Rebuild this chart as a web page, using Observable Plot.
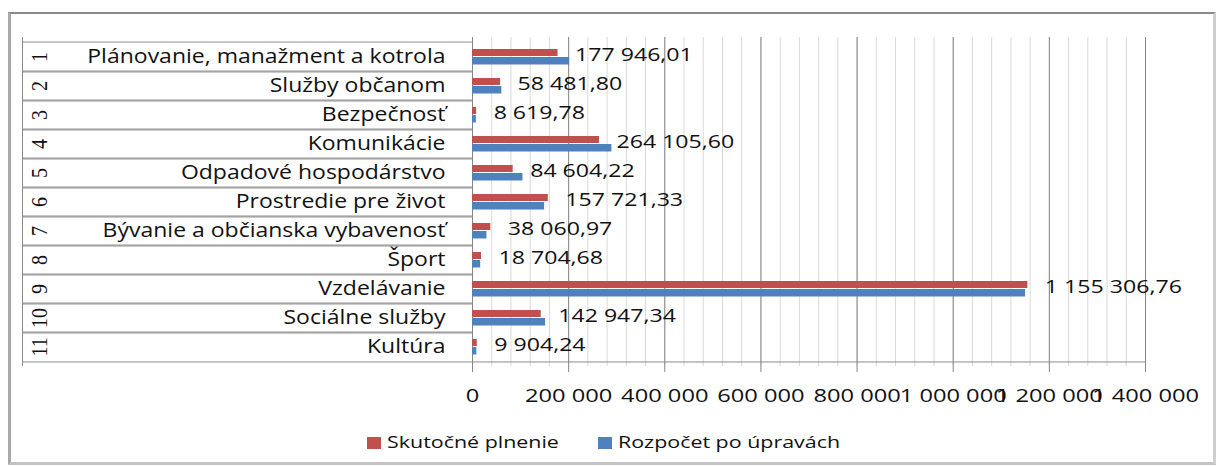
<!DOCTYPE html>
<html><head><meta charset="utf-8">
<script src="https://cdn.jsdelivr.net/npm/d3@7"></script>
<script src="https://cdn.jsdelivr.net/npm/@observablehq/plot@0.6"></script>
<style>
body{margin:0;background:#fff;font-family:"Open Sans",sans-serif;}
#wrap{position:relative;width:1217px;height:466px;overflow:hidden;background:#fff;}
#frame{position:absolute;left:8px;top:12px;width:1202px;height:448px;border-top:2px solid #8a8a8a;border-left:3px solid #a9a9a9;border-right:3px solid #cfcfcf;border-bottom:3px solid #c4c4c4;}
#chart{position:absolute;left:0;top:0;}
#legend{position:absolute;left:0;top:428px;width:1217px;height:28px;}
.sw{position:absolute;width:14px;height:12px;top:9px}
.lt{position:absolute;top:0;font-size:17px;line-height:28px;color:#111;transform:scaleX(1.26);transform-origin:left center;white-space:nowrap}
</style></head>
<body>
<div id="wrap">
  <div id="frame"></div>
  <div id="chart"></div>
  <div id="legend"></div>
</div>
<script>
// ---- data ----
const categories = ["Plánovanie, manažment a kotrola", "Služby občanom", "Bezpečnosť", "Komunikácie", "Odpadové hospodárstvo", "Prostredie pre život", "Bývanie a občianska vybavenosť", "Šport", "Vzdelávanie", "Sociálne služby", "Kultúra"];
const rowNumbers = ["1", "2", "3", "4", "5", "6", "7", "8", "9", "10", "11"];
const skutocnePlnenie = [177946.01, 58481.80, 8619.78, 264105.60, 84604.22, 157721.33, 38060.97, 18704.68, 1155306.76, 142947.34, 9904.24];
const rozpocetPoUpravach = [202000, 61000, 8000, 290000, 105000, 150000, 30000, 17000, 1150500, 152000, 9000];
const seriesNames = ["Skutočné plnenie", "Rozpočet po úpravách"];
const seriesColors = ["#C0504D", "#4F81BD"];
const xTickValues = [0, 200000, 400000, 600000, 800000, 1000000, 1200000, 1400000];

// ---- layout ----
const W = 1217, H = 420, top0 = 37, bottom0 = 366, left0 = 472, right0 = 1145;
const bw = (bottom0 - top0) / categories.length;
const loc = d3.formatLocale({decimal: ",", thousands: " ", grouping: [3], currency: ["", ""]});
const fmtVal = loc.format(",.2f");
const fmtTick = loc.format(",d");
const rows = categories.map((c, i) => ({cat: c, plnenie: skutocnePlnenie[i], rozpocet: rozpocetPoUpravach[i]}));
const minorTicks = d3.range(0, 1400001, 40000);
const lineColor = "#8c8c8c";

const svg = Plot.plot({
  width: W, height: H,
  marginTop: top0, marginBottom: H - bottom0, marginLeft: left0, marginRight: W - right0,
  style: {background: "transparent", fontFamily: "Open Sans", color: "#111", overflow: "visible"},
  x: {domain: [0, 1400000], label: null},
  y: {domain: categories, padding: 0, label: null},
  marks: [
    Plot.ruleX(minorTicks, {stroke: "#d9d9d9"}),
    Plot.ruleX(xTickValues, {stroke: "#868686"}),
    Plot.barX(rows, {y: "cat", x: "plnenie", fill: seriesColors[0], insetTop: 7, insetBottom: 15}),
    Plot.barX(rows, {y: "cat", x: "rozpocet", fill: seriesColors[1], insetTop: 15, insetBottom: 6.5}),
    Plot.text(rows, {y: "cat", x: "plnenie", text: d => fmtVal(d.plnenie), textAnchor: "start", dx: 17, dy: -2, fontSize: 18.5, fill: "#111"}),
    Plot.axisY({tickSize: 450, fill: "none", stroke: lineColor, dy: -bw / 2, label: null}),
    Plot.axisY({tickSize: 450, fill: "none", stroke: lineColor, dy: bw / 2, label: null}),
    Plot.ruleX([0], {dx: -450, stroke: lineColor}),
    Plot.ruleY([categories[categories.length - 1]], {y: d => d, dy: bw / 2, stroke: lineColor}),
    Plot.axisY({tickSize: 0, tickPadding: 27, fontSize: 20, label: null}),
    Plot.axisY({tickSize: 0, tickPadding: 426, tickFormat: d => rowNumbers[categories.indexOf(d)], tickRotate: -90, textAnchor: "middle", fontSize: 20, fontFamily: "Liberation Serif", label: null}),
    Plot.axisX({ticks: xTickValues, tickSize: 6, tickPadding: 16, tickFormat: fmtTick, fontSize: 18.5, stroke: "#868686", label: null})
  ]
});

function stretch(sel, sx, sy, filter) {
  svg.querySelectorAll(sel).forEach(t => {
    let tr = t.getAttribute("transform");
    if (filter && !filter(tr || "")) return;
    if (!tr) {
      const x = +t.getAttribute("x") || 0, y = +t.getAttribute("y") || 0;
      t.removeAttribute("x"); t.removeAttribute("y");
      tr = `translate(${x},${y})`;
    }
    t.setAttribute("transform", tr + ` scale(${sx},${sy})`);
  });
}
stretch('g[aria-label="x-axis tick label"] text', 1.28, 1);
stretch('g[aria-label="y-axis tick label"] text', 1.15, 1, tr => !tr.includes("rotate"));
stretch('g[aria-label="y-axis tick label"] text', 1, 1.2, tr => tr.includes("rotate"));
stretch('g[aria-label="text"] text', 1.25, 1);

document.getElementById("chart").appendChild(svg);

// ---- legend ----
const legend = document.getElementById("legend");
const legendX = [367, 598];
seriesNames.forEach((name, i) => {
  const sw = document.createElement("div");
  sw.className = "sw"; sw.style.left = legendX[i] + "px"; sw.style.background = seriesColors[i];
  const lt = document.createElement("div");
  lt.className = "lt"; lt.style.left = (legendX[i] + 20) + "px"; lt.textContent = name;
  legend.appendChild(sw); legend.appendChild(lt);
});
</script>
</body></html>
